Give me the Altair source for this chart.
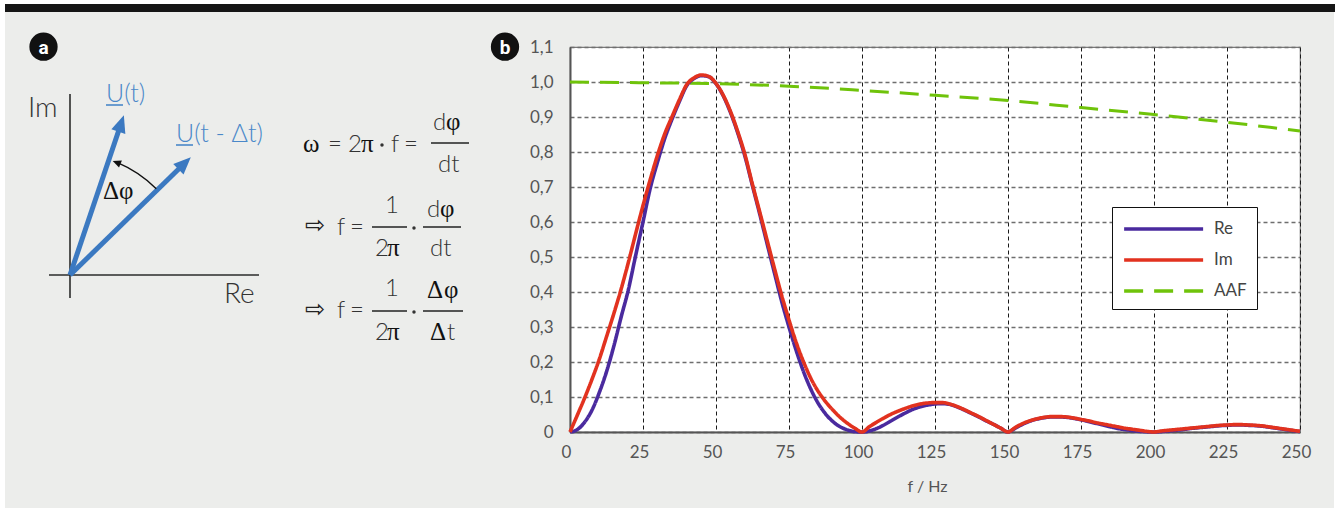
import altair as alt
import pandas as pd

# ------------------------------------------------------------------ panel b data
freq = [round(i * 2.5, 1) for i in range(101)]          # 0 ... 250 Hz sampling grid
re_vals = [
    0, 0.007, 0.028, 0.062, 0.112, 0.172, 0.245, 0.328, 0.407, 0.505,
    0.600, 0.697, 0.772, 0.840, 0.895, 0.945, 0.990, 1.010, 1.018, 1.015,
    0.995, 0.960, 0.912, 0.853, 0.785, 0.703, 0.622, 0.538, 0.455, 0.373,
    0.300, 0.232, 0.172, 0.122, 0.082, 0.052, 0.030, 0.015, 0.006, 0.001,
    0,
    0.003, 0.010, 0.020, 0.032, 0.044, 0.055, 0.065, 0.072, 0.077, 0.080,
    0.081, 0.079, 0.072, 0.063, 0.053, 0.043, 0.032, 0.022, 0.011, 0,
    0.011, 0.022, 0.031, 0.037, 0.041, 0.043, 0.043, 0.042, 0.039, 0.035,
    0.030, 0.025, 0.020, 0.015, 0.010, 0.007, 0.004, 0.002, 0.0005, 0,
    0.001, 0.003, 0.005, 0.007, 0.010, 0.012, 0.014, 0.016, 0.018, 0.019,
    0.020, 0.020, 0.019, 0.018, 0.016, 0.013, 0.010, 0.007, 0.004, 0.001,
]
im_vals = [
    0, 0.048, 0.097, 0.150, 0.207, 0.272, 0.338, 0.408, 0.485, 0.567,
    0.647, 0.722, 0.792, 0.853, 0.902, 0.950, 0.993, 1.012, 1.020, 1.016,
    0.996, 0.962, 0.915, 0.857, 0.790, 0.707, 0.628, 0.548, 0.468, 0.390,
    0.320, 0.255, 0.200, 0.153, 0.116, 0.087, 0.063, 0.042, 0.025, 0.011,
    0,
    0.015, 0.028, 0.040, 0.051, 0.060, 0.068, 0.075, 0.080, 0.083, 0.084,
    0.084, 0.080, 0.073, 0.064, 0.054, 0.044, 0.033, 0.022, 0.011, 0,
    0.013, 0.024, 0.032, 0.038, 0.042, 0.044, 0.044, 0.043, 0.040, 0.036,
    0.032, 0.027, 0.023, 0.019, 0.015, 0.011, 0.008, 0.005, 0.002, 0,
    0.003, 0.005, 0.007, 0.009, 0.011, 0.013, 0.015, 0.017, 0.019, 0.020,
    0.021, 0.021, 0.020, 0.019, 0.017, 0.014, 0.011, 0.008, 0.005, 0.002,
]
aaf_freq = [0, 25, 50, 75, 100, 125, 150, 175, 200, 225, 250]
aaf_vals = [1.0, 0.998, 0.995, 0.988, 0.976, 0.962, 0.947, 0.927, 0.907, 0.885, 0.860]

series_names = ["Re", "Im", "AAF"]
series_colors = ["#4a2a9e", "#e2321f", "#6fc30a"]
series_dash = [[1, 0], [1, 0], [19, 11]]
x_ticks = [0, 25, 50, 75, 100, 125, 150, 175, 200, 225, 250]
y_ticks = [0, 0.1, 0.2, 0.3, 0.4, 0.5, 0.6, 0.7, 0.8, 0.9, 1.0, 1.1]
x_title = "f / Hz"

# ------------------------------------------------------------------ panel a (sketch) content
axis_lines = {"x": [70, 49], "y": [298, 275], "x2": [70, 259], "y2": [94, 275]}
vec_shafts = {"x": [70, 70], "y": [275, 275], "x2": [121.1, 184.6], "y2": [123.5, 163.3]}
vec_heads = {"x": [121.1, 184.6], "y": [123.5, 163.3], "ang": [18.6, 45.7]}
arc_center = {"x": [70], "y": [275]}
arc_head = {"x": [116.6], "y": [162.5], "ang": [292.4]}
black_labels = {"t": ["Im", "Re"], "x": [28, 224], "y": [117, 303]}
blue_labels = {"t": ["U(t)", "U(t - \u0394t)"], "x": [106, 176], "y": [102, 142]}
underlines = {"x": [106, 176], "x2": [123, 193], "y": [105, 145]}
dphi_label = {"t": ["\u0394\u03c6"], "x": [103], "y": [199]}
sans_tokens = {
    "t": ["=", "2", "f", "=", "d", "dt",
          "f", "=", "1", "2", "d", "dt",
          "f", "=", "1", "2", "t"],
    "x": [328, 348, 391, 404, 433, 438,
          337, 350, 385, 375, 427, 430,
          337, 350, 385, 375, 447],
    "y": [152, 152, 152, 152, 130, 172,
          235, 235, 213, 256, 217, 256,
          318, 318, 296, 340, 340],
}
serif_tokens = {
    "t": ["\u03c9", "\u03c0", "\u03c6", "\u03c0", "\u03c6", "\u03c0", "\u0394", "\u03c6", "\u0394"],
    "x": [303, 361, 446, 387, 440, 387, 427, 444, 430],
    "y": [152, 152, 130, 256, 217, 340, 298, 298, 340],
}
implies = {"t": ["\u21e8", "\u21e8"], "x": [305, 305], "y": [226, 310]}
dots = {"x": [382, 414, 414], "y": [145, 228, 312]}
frac_bars = {"x": [431, 372, 423, 372, 423], "x2": [469, 407, 461, 407, 463],
             "y": [143, 227, 227, 311, 311]}
badges = {"t": ["a", "b"], "x": [43.5, 505], "y": [46.7, 46.7]}
top_bar = {"x": [5], "x2": [1335], "y": [4], "y2": [12]}
white_edges = {"x": [0, 1334, 0], "x2": [5, 1338, 1338], "y": [0, 0, 0], "y2": [508, 508, 4]}

# ------------------------------------------------------------------ geometry
W, H = 730, 385
PAD_L, PAD_T = 570, 47
BG = "#ecedeb"
SANS = "Lato"
SERIF = "Liberation Serif"
BLUE = "#3b79c1"
BLUE_TXT = "#4a88c9"
INK = "#2b2b2b"

sx = alt.Scale(domain=[PAD_L, PAD_L + W], nice=False, zero=False)
sy = alt.Scale(domain=[PAD_T, PAD_T + H], nice=False, zero=False, reverse=True)


def X(field="x"):
    return alt.X(f"{field}:Q", scale=sx, axis=None)


def Y(field="y"):
    return alt.Y(f"{field}:Q", scale=sy, axis=None)


def D(d):
    return alt.Chart(pd.DataFrame(d))


sketch = alt.layer(
    D(white_edges).mark_rect(color="white").encode(x=X(), x2="x2:Q", y=Y(), y2="y2:Q"),
    D(top_bar).mark_rect(color="#151515").encode(x=X(), x2="x2:Q", y=Y(), y2="y2:Q"),
    D(axis_lines).mark_rule(color=INK, strokeWidth=1.6).encode(x=X(), y=Y(), x2="x2:Q", y2="y2:Q"),
    D(vec_shafts).mark_rule(color=BLUE, strokeWidth=5, strokeCap="butt").encode(
        x=X(), y=Y(), x2="x2:Q", y2="y2:Q"),
    D(vec_heads).mark_point(shape="M0,-1L0.85,1L-0.85,1Z", filled=True, opacity=1,
                            color=BLUE, size=300).encode(
        x=X(), y=Y(), angle=alt.Angle("ang:Q", scale=None)),
    D(arc_center).mark_arc(theta=0.40, theta2=0.785, radius=122, radius2=122,
                           filled=False, color="#111", strokeWidth=1.4).encode(x=X(), y=Y()),
    D(arc_head).mark_point(shape="M0,-1L0.9,1L-0.9,1Z", filled=True, opacity=1,
                           color="#111", size=70).encode(
        x=X(), y=Y(), angle=alt.Angle("ang:Q", scale=None)),
    D(black_labels).mark_text(font=SANS, fontSize=28, fontWeight=300, color="#333",
                              align="left", baseline="alphabetic").encode(x=X(), y=Y(), text="t:N"),
    D(blue_labels).mark_text(font=SANS, fontSize=25, fontWeight=300, color=BLUE_TXT,
                             align="left", baseline="alphabetic").encode(x=X(), y=Y(), text="t:N"),
    D(underlines).mark_rule(color=BLUE_TXT, strokeWidth=1.6).encode(x=X(), x2="x2:Q", y=Y()),
    D(dphi_label).mark_text(font=SERIF, fontSize=25, color="#111",
                            align="left", baseline="alphabetic").encode(x=X(), y=Y(), text="t:N"),
    D(sans_tokens).mark_text(font=SANS, fontSize=24, fontWeight=300, color="#333",
                             align="left", baseline="alphabetic").encode(x=X(), y=Y(), text="t:N"),
    D(serif_tokens).mark_text(font=SERIF, fontSize=25, color="#111",
                              align="left", baseline="alphabetic").encode(x=X(), y=Y(), text="t:N"),
    D(implies).mark_text(font="DejaVu Sans", fontSize=24, color="#222",
                         align="left", baseline="middle").encode(x=X(), y=Y(), text="t:N"),
    D(dots).mark_point(filled=True, opacity=1, color="#333", size=12, shape="circle").encode(x=X(), y=Y()),
    D(frac_bars).mark_rule(color="#222", strokeWidth=1.5).encode(x=X(), x2="x2:Q", y=Y()),
    D(badges).mark_point(filled=True, opacity=1, color="#111", size=800, shape="circle").encode(x=X(), y=Y()),
    D(badges).mark_text(font="Roboto", fontSize=19, fontWeight="bold", color="white",
                        align="center", baseline="middle", dy=1).encode(x=X(), y=Y(), text="t:N"),
)

# ------------------------------------------------------------------ panel b chart
df = pd.concat([
    pd.DataFrame({"f": freq, "v": re_vals, "series": "Re"}),
    pd.DataFrame({"f": freq, "v": im_vals, "series": "Im"}),
    pd.DataFrame({"f": aaf_freq, "v": aaf_vals, "series": "AAF"}),
], ignore_index=True)

# legend line symbol: a horizontal stroke drawn to the right of the symbol centre
legend = alt.Legend(
    title=None, orient="none", legendX=542, legendY=160,
    symbolType="M-1,0H7", symbolSize=390, symbolStrokeWidth=3.5,
    labelFont=SANS, labelFontSize=17, labelFontWeight=400, labelColor="#444",
    labelOffset=68, rowPadding=11, padding=10,
    strokeColor="#111", fillColor="white", cornerRadius=0,
)

base = alt.Chart(df).encode(
    x=alt.X("f:Q", scale=alt.Scale(domain=[0, 250], nice=False, zero=False),
            axis=alt.Axis(values=x_ticks, title=x_title, format="d", grid=True,
                          labelFlush=False, labelOffset=-4,
                          gridColor="#1a1a1a", gridDash=[4, 3], gridWidth=1,
                          titleX=357, titleY=54, titleAlign="center", titleBaseline="middle")),
    y=alt.Y("v:Q", scale=alt.Scale(domain=[0, 1.1], nice=False),
            axis=alt.Axis(values=y_ticks, title=None, grid=True, labelFlush=False,
                          labelExpr="datum.value == 0 ? '0' : replace(format(datum.value, '.1f'), '.', ',')",
                          gridColor="#6e6e6e", gridDash=[4, 3], gridWidth=1.6)),
    color=alt.Color("series:N", scale=alt.Scale(domain=series_names, range=series_colors), legend=legend),
    strokeDash=alt.StrokeDash("series:N", scale=alt.Scale(domain=series_names, range=series_dash), legend=legend),
)

lines = alt.layer(
    base.transform_filter("datum.series == 'AAF'").mark_line(strokeWidth=3, interpolate="monotone"),
    base.transform_filter("datum.series == 'Re'").mark_line(strokeWidth=3.6, interpolate="monotone"),
    base.transform_filter("datum.series == 'Im'").mark_line(strokeWidth=3.6, interpolate="monotone"),
)

chart = alt.layer(sketch, lines).resolve_scale(x="independent", y="independent").properties(
    width=W, height=H,
    autosize=alt.AutoSizeParams(type="none"),
    padding={"left": PAD_L, "top": PAD_T, "right": 1338 - PAD_L - W, "bottom": 508 - PAD_T - H},
    background=BG,
).configure_view(
    fill="white", stroke="#7a7a7a", strokeWidth=1.2,
).configure_axis(
    domainColor="#555", domainWidth=2, ticks=False, tickSize=0,
    labelFont=SANS, labelFontSize=17, labelFontWeight=400, labelColor="#555",
    titleFont=SANS, titleFontSize=16, titleFontWeight=400, titleColor="#555",
).configure_axisX(labelPadding=12).configure_axisY(labelPadding=17)

chart.save("out.html", embed_options={"renderer": "svg", "actions": False})
